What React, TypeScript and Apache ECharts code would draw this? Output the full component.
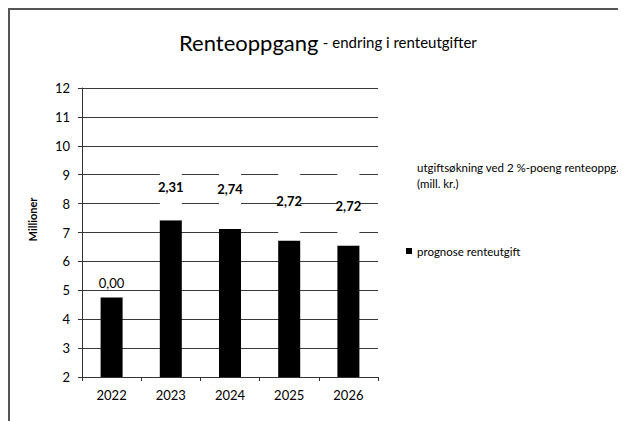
import React, { useEffect, useRef } from "react";
import * as echarts from "echarts";

const categories = ["2022", "2023", "2024", "2025", "2026"];
const prognose = [4.75, 7.42, 7.12, 6.72, 6.55];
const okning = [0.0, 2.31, 2.74, 2.72, 2.72];
const yTicks = { min: 2, max: 12, interval: 1 };
const seriesNames = ["prognose renteutgift", "utgiftsøkning ved 2 %-poeng renteoppg.\n(mill. kr.)"];

const FONT = "Lato";

export default function App() {
  const ref = useRef<HTMLDivElement>(null);
  useEffect(() => {
    if (!ref.current) return;
    const chart = echarts.init(ref.current, null, { renderer: "svg" });
    const fmt = (v: number) => v.toFixed(2).replace(".", ",");
    chart.setOption({
      animation: false,
      backgroundColor: "#fff",
      textStyle: { fontFamily: FONT },
      title: {
        text: "{a|Renteoppgang} {b|- endring i renteutgifter}",
        left: 166,
        top: 18,
        textStyle: {
          rich: {
            a: { fontFamily: FONT, fontSize: 22, fontWeight: "normal", color: "#000" },
            b: { fontFamily: FONT, fontSize: 15, fontWeight: "normal", color: "#000" },
          },
        },
      },
      graphic: [
        { type: "line", shape: { x1: 1, y1: 0, x2: 1, y2: 413 }, style: { stroke: "#555", lineWidth: 2 } },
        { type: "line", shape: { x1: 0, y1: 1, x2: 618, y2: 1 }, style: { stroke: "#555", lineWidth: 2 } },
      ],
      legend: {
        orient: "vertical",
        left: 393,
        top: 146,
        itemWidth: 6,
        itemHeight: 6,
        itemGap: 52,
        icon: "rect",
        data: [seriesNames[1], seriesNames[0]],
        textStyle: { fontFamily: FONT, fontSize: 11.5, color: "#000", lineHeight: 16 },
      },
      grid: { left: 74, right: 248, top: 80, bottom: 44, containLabel: false },
      xAxis: {
        type: "category",
        data: categories,
        axisLine: { lineStyle: { color: "#333", width: 1 } },
        axisTick: { show: true, length: 4, lineStyle: { color: "#333" } },
        axisLabel: { fontFamily: FONT, fontSize: 13, color: "#000", margin: 11 },
      },
      yAxis: {
        type: "value",
        min: yTicks.min,
        max: yTicks.max,
        interval: yTicks.interval,
        name: "Millioner",
        nameLocation: "middle",
        nameGap: 44,
        nameTextStyle: { fontFamily: FONT, fontSize: 11, fontWeight: "bold", color: "#000", padding: [0, 0, 0, 26] },
        axisLine: { show: true, lineStyle: { color: "#333", width: 1 } },
        axisTick: { show: true, length: 4, lineStyle: { color: "#333" } },
        axisLabel: { fontFamily: FONT, fontSize: 13, color: "#000", margin: 12 },
        splitLine: { lineStyle: { color: "#3a3a3a", width: 1 } },
      },
      series: [
        {
          name: seriesNames[0],
          type: "bar",
          stack: "s",
          barWidth: 22,
          data: prognose,
          itemStyle: { color: "#000" },
        },
        {
          name: seriesNames[1],
          type: "bar",
          stack: "s",
          barWidth: 22,
          itemStyle: { color: "#fff" },
          data: okning.map((v) =>
            v === 0
              ? { value: v, label: { position: "top", distance: 8, fontWeight: "normal" } }
              : { value: v }
          ),
          label: {
            show: true,
            position: "inside",
            fontFamily: FONT,
            fontSize: 13,
            fontWeight: "bold",
            color: "#000",
            formatter: (p: any) => fmt(p.value),
          },
        },
      ],
    });
    return () => chart.dispose();
  }, []);
  return <div ref={ref} style={{ width: 618, height: 413 }} />;
}
